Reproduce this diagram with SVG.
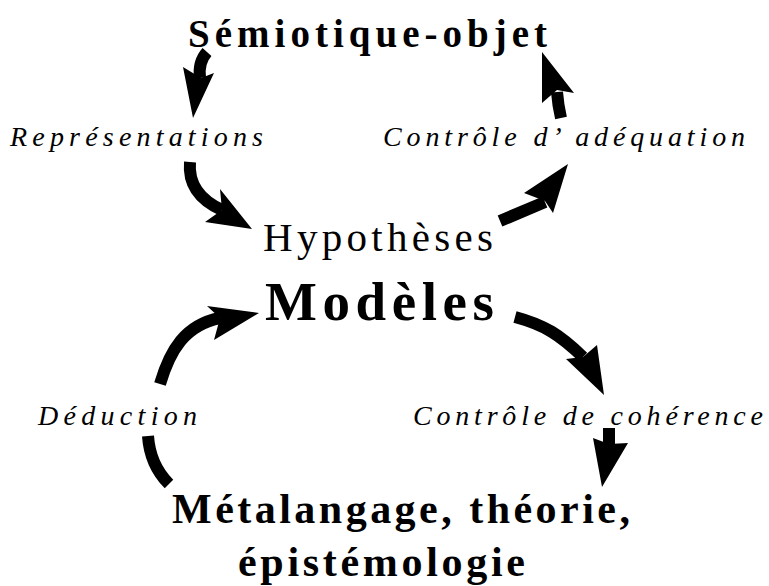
<svg xmlns="http://www.w3.org/2000/svg" width="769" height="586" viewBox="0 0 769 586">
<style>
.b{font-family:"Liberation Serif","Times New Roman",serif;font-weight:bold;fill:#000}
.r{font-family:"Liberation Serif","Times New Roman",serif;fill:#000}
.i{font-family:"Liberation Serif","Times New Roman",serif;font-style:italic;fill:#000}
.s{fill:none;stroke:#000;stroke-width:12}
.h{fill:#000}
</style>
<rect width="769" height="586" fill="#fff"/>
<g id="semiotique"><text class="b" x="188" y="47" font-size="39" textLength="359" lengthAdjust="spacing">Sémiotique-objet</text></g>
<g id="representations"><text class="i" x="10" y="146" font-size="28" textLength="253" lengthAdjust="spacing">Représentations</text></g>
<g id="adequation"><text class="i" x="383" y="146" font-size="28" textLength="362" lengthAdjust="spacing">Contrôle d’ adéquation</text></g>
<g id="modeles">
<text class="r" x="263" y="251" font-size="41" textLength="230" lengthAdjust="spacing">Hypothèses</text>
<text class="b" x="265" y="320" font-size="55" textLength="229" lengthAdjust="spacing">Modèles</text>
</g>
<g id="deduction"><text class="i" x="38" y="425" font-size="28" textLength="159" lengthAdjust="spacing">Déduction</text></g>
<g id="coherence"><text class="i" x="413" y="425" font-size="28" textLength="350" lengthAdjust="spacing">Contrôle de cohérence</text></g>
<g id="metalangage">
<text class="b" x="172" y="523" font-size="42" textLength="458" lengthAdjust="spacing">Métalangage, théorie,</text>
<text class="b" x="238" y="576" font-size="42" textLength="287" lengthAdjust="spacing">épistémologie</text>
</g>
<g id="connectors">
<path class="s" d="M207 52 Q198 62 200 78"/>
<polygon class="h" points="193,118 183,67 201,78 214,73"/>
<path class="s" d="M561 118 Q558 105 557 92"/>
<polygon class="h" points="542,52 574,93 557,90 542,103"/>
<path class="s" d="M190 162 C188 185 200 200 222 210"/>
<polygon class="h" points="252,229 205,222 222,210 220,189"/>
<path class="s" d="M500 221 L545 202"/>
<polygon class="h" points="568,164 553,213 545,201 524,193"/>
<path class="s" d="M160 384 C170 350 185 325 220 318"/>
<polygon class="h" points="259,313 214,340 220,318 207,306"/>
<path class="s" d="M515 317 C545 325 560 335 583 357"/>
<polygon class="h" points="604,395 566,359 583,357 597,345"/>
<path class="s" d="M148 436 Q150 465 169 484"/>
<path class="s" d="M609 428 L609 444"/>
<polygon class="h" points="602,487 593,438 609,444 628,443"/>
</g>
</svg>
